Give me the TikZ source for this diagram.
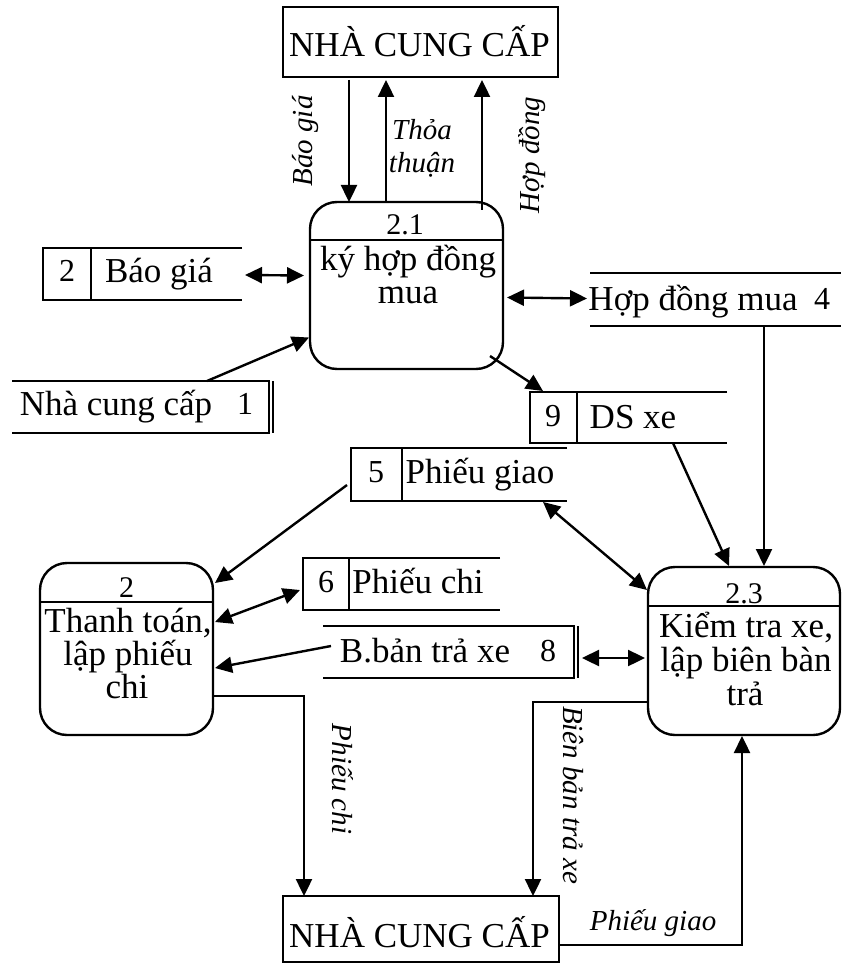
\documentclass[tikz,border=0pt]{standalone}
\usepackage{fontspec}
\setmainfont{Liberation Serif}
\usetikzlibrary{arrows.meta,calc}
\newcommand{\dfdbig}{\fontsize{35}{34}\selectfont}
\newcommand{\dfdnum}{\fontsize{32}{34}\selectfont}
\newcommand{\dfdid}{\fontsize{30}{34}\selectfont}
\newcommand{\dfdlbl}{\fontsize{29}{34}\selectfont\itshape}
\begin{document}
\begin{tikzpicture}[x=1pt,y=-1pt,line width=2.4pt,
  every node/.style={inner sep=0pt,outer sep=0pt},
  entity/.style={draw,minimum width=#1,minimum height=70pt},
  process/.style={draw,rounded corners=27pt},
  storebox/.style={minimum height=52pt},
  bigtext/.style={font=\dfdbig,anchor=base},
  numtext/.style={font=\dfdnum,anchor=base},
  idtext/.style={font=\dfdid,anchor=base},
  flowlabel/.style={font=\dfdlbl,anchor=base},
  tip/.tip={Triangle[length=17pt,width=16pt]},
  flow/.style={-tip},
  twoway/.style={tip-tip},
]
\useasboundingbox (0,0) rectangle (841,965);

% ---------- external entities ----------
\node[entity=275pt] (ncc1) at (420.5,42) {};
\node[bigtext] (ncc1t) at (419.5,57) {NHÀ CUNG CẤP};
\node[entity=276pt,minimum height=66pt] (ncc2) at (421,929) {};
\node[bigtext] (ncc2t) at (419.5,947) {NHÀ CUNG CẤP};

% ---------- processes ----------
\node[process,minimum width=193pt,minimum height=167pt] (p21) at (406.5,285.5) {};
\draw ($(p21.north west)+(0,38)$) -- ($(p21.north east)+(0,38)$);
\node[idtext] (p21n) at (405,235) {2.1};
\node[bigtext] (p21a) at (408,270) {ký hợp đồng};
\node[bigtext] (p21b) at (408,303) {mua};

\node[process,minimum width=173pt,minimum height=172pt] (p2) at (126.5,649) {};
\draw ($(p2.north west)+(0,39)$) -- ($(p2.north east)+(0,39)$);
\node[idtext] (p2n) at (126.5,597) {2};
\node[bigtext] (p2a) at (128,632) {Thanh toán,};
\node[bigtext] (p2b) at (128,665) {lập phiếu};
\node[bigtext] (p2c) at (127,698) {chi};

\node[process,minimum width=192pt,minimum height=168pt] (p23) at (744,651) {};
\draw ($(p23.north west)+(0,39)$) -- ($(p23.north east)+(0,39)$);
\node[idtext] (p23n) at (744,603) {2.3};
\node[bigtext] (p23a) at (746,637) {Kiểm tra xe,};
\node[bigtext] (p23b) at (746,671) {lập biên bàn};
\node[bigtext] (p23c) at (745,705) {trả};

% ---------- data stores ----------
% 2 Báo giá
\node[storebox,minimum width=199pt] (s2) at (142.5,274) {};
\draw (s2.north east) -- (s2.north west) -- (s2.south west) -- (s2.south east);
\draw ($(s2.north west)+(48,0)$) -- ($(s2.south west)+(48,0)$);
\node[numtext] (s2n) at (67,282) {2};
\node[bigtext] (s2t) at (159,283) {Báo giá};

% Nhà cung cấp 1
\node[storebox,minimum width=261pt] (s1) at (142.5,407) {};
\draw (s1.north west) -- ($(s1.north east)+(-4,0)$) -- ($(s1.south east)+(-4,0)$) -- (s1.south west);
\draw[line width=1.4pt] (s1.north east) -- (s1.south east);
\node[bigtext] (s1t) at (116,415) {Nhà cung cấp};
\node[numtext] (s1n) at (245,414) {1};

% Hợp đồng mua 4
\node[storebox,minimum width=251pt,minimum height=53pt] (s4) at (715.5,299.5) {};
\draw (s4.north west) -- (s4.north east);
\draw (s4.south west) -- (s4.south east);
\node[bigtext] (s4t) at (693,310) {Hợp đồng mua};
\node[numtext] (s4n) at (822,309) {4};

% 9 DS xe
\node[storebox,minimum width=197pt,minimum height=51pt] (s9) at (628.5,417.5) {};
\draw (s9.north east) -- (s9.north west) -- (s9.south west) -- (s9.south east);
\draw ($(s9.north west)+(47,0)$) -- ($(s9.south west)+(47,0)$);
\node[numtext] (s9n) at (553,426) {9};
\node[bigtext] (s9t) at (633,428) {DS xe};

% 5 Phiếu giao
\node[storebox,minimum width=216pt,minimum height=53pt] (s5) at (459,474.5) {};
\draw (s5.north east) -- (s5.north west) -- (s5.south west) -- (s5.south east);
\draw ($(s5.north west)+(51,0)$) -- ($(s5.south west)+(51,0)$);
\node[numtext] (s5n) at (376,482) {5};
\node[bigtext] (s5t) at (480,483) {Phiếu giao};

% 6 Phiếu chi
\node[storebox,minimum width=197pt] (s6) at (401.5,584) {};
\draw (s6.north east) -- (s6.north west) -- (s6.south west) -- (s6.south east);
\draw ($(s6.north west)+(46,0)$) -- ($(s6.south west)+(46,0)$);
\node[numtext] (s6n) at (326,592) {6};
\node[bigtext] (s6t) at (418,593) {Phiếu chi};

% B.bản trả xe 8
\node[storebox,minimum width=255pt] (s8) at (450.5,652) {};
\draw (s8.north west) -- ($(s8.north east)+(-4,0)$) -- ($(s8.south east)+(-4,0)$) -- (s8.south west);
\draw[line width=1.4pt] (s8.north east) -- (s8.south east);
\node[bigtext] (s8t) at (425,662) {B.bản trả xe};
\node[numtext] (s8n) at (548,661) {8};

% ---------- flows ----------
\draw[flow] ($(ncc1.south west)+(66,3)$) -- ($(p21.north west)+(39,0)$);
\draw[flow] ($(p21.north west)+(76,1)$) -- ($(ncc1.south west)+(103,3)$);
\draw[flow] ($(p21.north east)+(-21,8)$) -- ($(ncc1.south west)+(199,3)$);
\node[flowlabel,rotate=90] (lbg) at (312,141) {Báo giá};
\node[flowlabel] (ltt1) at (422,140) {Thỏa};
\node[flowlabel] (ltt2) at (422,173) {thuận};
\node[flowlabel,rotate=90] (lhd) at (539,155) {Hợp đồng};

\draw[twoway] ($(s2.east)+(3,1)$) -- ($(p21.west)+(-6,-10)$);
\draw[flow] ($(s1.north west)+(195,0)$) -- ($(p21.west)+(-1,52)$);
\draw[twoway] ($(p21.east)+(4,12)$) -- ($(s4.west)+(-3,-1)$);
\draw[flow] ($(s4.south west)+(174,0)$) -- ($(p23.north west)+(116,-1)$);
\draw[flow] ($(p21.south east)+(-13,-13)$) -- ($(s9.north west)+(13,-1)$);
\draw[flow] ($(s9.south west)+(143,0)$) -- ($(p23.north west)+(81,-1)$);

\draw[flow] ($(s5.west)+(-4,10.5)$) -- ($(p2.north east)+(2,20)$);
\draw[twoway] ($(s5.south west)+(192,1)$) -- ($(p23.north west)+(-1,23)$);
\draw[twoway] ($(p2.east)+(2,-27)$) -- ($(s6.west)+(-3,6)$);
\draw[flow] ($(s8.west)+(8,-6)$) -- ($(p2.east)+(2,19)$);
\draw[twoway] ($(s8.east)+(4,6)$) -- ($(p23.west)+(-3,7)$);

\draw[flow] ($(p2.east)+(0,47)$) -| ($(ncc2.north west)+(21,0)$);
\node[flowlabel,rotate=-90] (lpc) at (332,779) {Phiếu chi};
\draw[flow] ($(p23.west)+(0,51)$) -| ($(ncc2.north east)+(-26,0)$);
\node[flowlabel,rotate=-90] (lbb) at (563,795) {Biên bản trả xe};
\draw[flow] ($(ncc2.east)+(0,16)$) -| ($(p23.south west)+(94,1)$);
\node[flowlabel] (lpg) at (653,930) {Phiếu giao};
\end{tikzpicture}
\end{document}
